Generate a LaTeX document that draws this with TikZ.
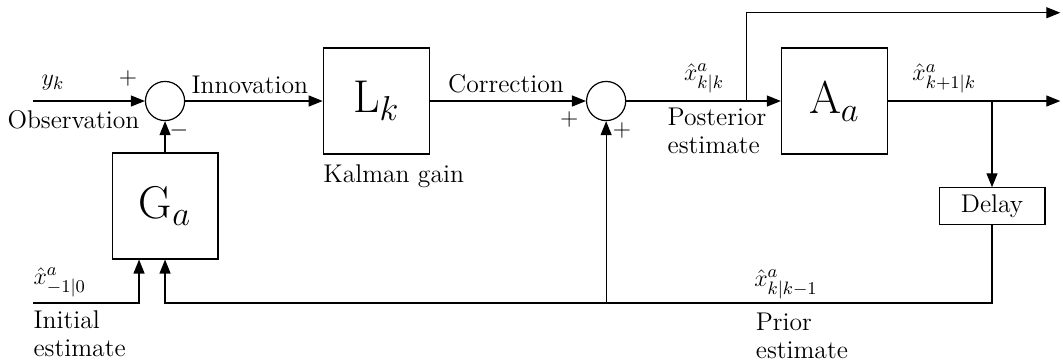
\documentclass[tikz,border=0pt]{standalone}
\usetikzlibrary{arrows.meta,positioning}

\tikzset{
  lbl/.style={font=\fontsize{12.8}{14}\selectfont,inner sep=1pt},
  blockbox/.style={draw,minimum width=1.86cm,minimum height=1.86cm,
    font=\fontsize{23}{28}\selectfont},
  delaybox/.style={draw,minimum width=1.86cm,minimum height=0.63cm,
    font=\fontsize{12.8}{14}\selectfont},
  sumnode/.style={draw,circle,minimum size=0.688cm,inner sep=0pt},
  sig/.style={-{Triangle[length=7pt,width=5.5pt]}}
}

\begin{document}
\begin{tikzpicture}[semithick]
  \useasboundingbox (0,-4.603) rectangle (18.677,1.775);
  % blocks
  \node[sumnode] (sum1) at (2.90,0) {};
  \node[blockbox] (G) at (2.90,-1.845) {G$_a$};
  \node[blockbox] (L) at (6.61,0) {L$_k$};
  \node[sumnode] (sum2) at (10.65,0) {};
  \node[blockbox] (A) at (14.66,0) {A$_a$};
  \node[delaybox] (D) at (17.43,-1.845) {Delay};
  % points
  \coordinate (obs) at (0.58,0);
  \coordinate (post) at (13.11,0);
  \coordinate (split) at (17.43,0);
  \coordinate (out1) at (18.63,1.551);
  \coordinate (out2) at (18.63,0);
  \coordinate (dbot) at (17.43,-3.55);
  \coordinate (init) at (0.58,-3.55);
  % signals
  \draw[sig] (obs) -- (sum1);
  \draw[sig] (G) -- (sum1);
  \draw[sig] (sum1) -- (L);
  \draw[sig] (L) -- (sum2);
  \draw[sig] (sum2) -- (A);
  \draw[sig] (post) |- (out1);
  \draw[sig] (A) -- (out2);
  \draw[sig] (split) -- (D);
  \draw[sig] (D) -- (dbot) -| (G.south);
  \draw[sig] (sum2 |- dbot) -- (sum2);
  \draw[sig] (init) -| ([xshift=-0.457cm]G.south);
  % labels
  \node[lbl] (ylbl) at (0.93,0.33) {$y_k$};
  \node[lbl] (obslbl) at (1.29,-0.334) {Observation};
  \node[lbl] (p1) at (2.25,0.40) {$+$};
  \node[lbl] (m1) at (3.145,-0.51) {$-$};
  \node[lbl] (innov) at (4.39,0.29) {Innovation};
  \node[lbl,anchor=north west,inner sep=0pt] (gain) at ([yshift=-5pt]L.south west) {Kalman gain};
  \node[lbl] (corr) at (8.89,0.30) {Correction};
  \node[lbl] (p2) at (10.0,-0.32) {$+$};
  \node[lbl] (p3) at (10.93,-0.51) {$+$};
  \node[lbl] (xpost) at (12.37,0.40) {$\hat{x}^a_{k|k}$};
  \node[lbl,align=left,anchor=west,inner sep=0pt] (postlbl) at (11.72,-0.52) {Posterior\\estimate};
  \node[lbl] (xnext) at (16.59,0.39) {$\hat{x}^a_{k+1|k}$};
  \node[lbl] (xinit) at (1.05,-3.18) {$\hat{x}^a_{-1|0}$};
  \node[lbl,align=left,anchor=west,inner sep=0pt] (initlbl) at (0.58,-4.09) {Initial\\estimate};
  \node[lbl] (xprior) at (13.81,-3.22) {$\hat{x}^a_{k|k-1}$};
  \node[lbl,align=left,anchor=west,inner sep=0pt] (priorlbl) at (13.27,-4.13) {Prior\\estimate};
\end{tikzpicture}
\end{document}
